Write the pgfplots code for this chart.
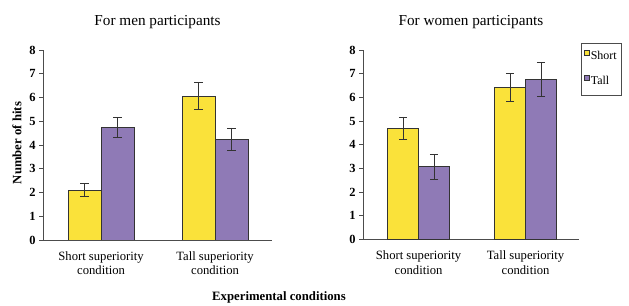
\documentclass[border=0pt]{standalone}
\usepackage{pgfplots}
\pgfplotsset{compat=1.18}
\usepackage{fontspec}
\setmainfont{Liberation Serif}
\definecolor{barY}{RGB}{250,226,58}
\definecolor{barP}{RGB}{143,122,182}
\begin{document}
\begin{tikzpicture}
\pgfplotsset{
 myaxis/.style={
  scale only axis, anchor=south west,
  ymin=0,ymax=8, ytick={0,...,8},
  axis x line*=bottom, axis y line*=left,
  axis line style={black!70, line width=0.6bp},
  tick align=outside, major tick length=4bp,
  xtick={0,1}, xticklabels={{Short superiority\\condition},{Tall superiority\\condition}},
  xtick style={draw=none},
  ytick style={black!70, line width=0.6bp},
  xticklabel style={align=center, font=\fontsize{12.7}{14.5}\selectfont, yshift=-4bp},
  yticklabel style={font=\fontsize{12.5}{13}\selectfont\bfseries},
  /pgf/number format/assume math mode=true,
  ybar=0pt,
  error bars/y dir=both, error bars/y explicit,
  error bars/error bar style={black!80, line width=0.7bp},
  error bars/error mark options={rotate=90, black!80, line width=0.7bp, mark size=4.2bp},
  title style={font=\fontsize{15.3}{17}\selectfont, at={(0.5,1)}, anchor=center, yshift=22bp},
 },
 ybarstyle/.style={fill=barY, draw=black!80, line width=0.6bp},
 pbarstyle/.style={fill=barP, draw=black!80, line width=0.6bp},
}
\begin{axis}[myaxis, at={(43bp,66bp)}, width=229bp, height=190bp,
  xmin=-0.51, xmax=1.5, bar width=33bp, title={For men participants}]
\addplot[ybarstyle] coordinates {(0,2.10) +- (0,0.28) (1,6.06) +- (0,0.57)};
\addplot[pbarstyle] coordinates {(0,4.74) +- (0,0.43) (1,4.24) +- (0,0.48)};
\end{axis}
\begin{axis}[myaxis, at={(363bp,66.7bp)}, width=216bp, height=189.3bp,
  xmin=-0.52, xmax=1.5, bar width=31bp, title={For women participants},
  legend style={at={(1.008,1.037)}, anchor=north west, draw=black!70, fill=white,
    font=\fontsize{12}{13}\selectfont, row sep=11bp, inner xsep=3bp, inner ysep=6.5bp,
    nodes={inner xsep=1.5bp}},
  legend cell align=left,
  legend image code/.code={\draw[#1, draw=black!80, line width=0.4bp] (0bp,1bp) rectangle (5bp,6bp);}]
\addplot[ybarstyle] coordinates {(0,4.69) +- (0,0.48) (1,6.42) +- (0,0.60)};
\addplot[pbarstyle] coordinates {(0,3.07) +- (0,0.52) (1,6.76) +- (0,0.72)};
\legend{Short,Tall}
\end{axis}
\node[rotate=90, font=\fontsize{12.8}{14}\selectfont\bfseries] at (17bp,163bp) {Number of hits};
\node[font=\fontsize{12.8}{14}\selectfont\bfseries] at (279bp,9bp) {Experimental conditions};
\pgfresetboundingbox
\useasboundingbox (0bp,0bp) rectangle (629bp,306bp);
\end{tikzpicture}
\end{document}
